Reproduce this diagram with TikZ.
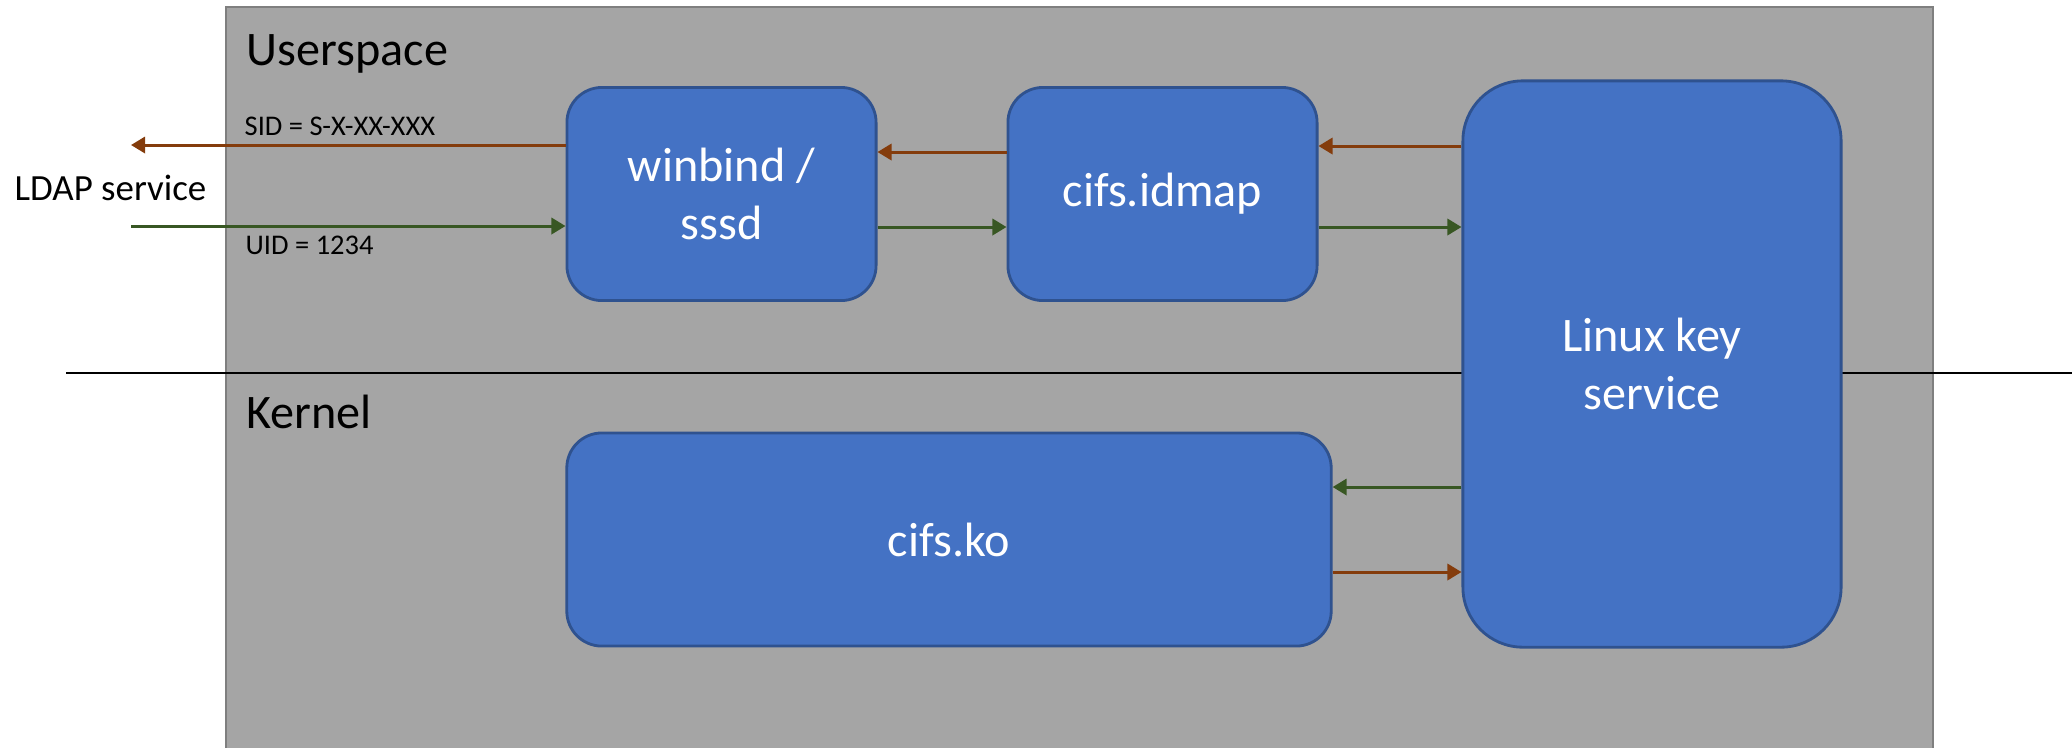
\documentclass[tikz,border=0pt]{standalone}
\usepackage{fontspec}
\setmainfont{Carlito}
\usetikzlibrary{arrows.meta}
\definecolor{boxblue}{HTML}{4472C4}
\definecolor{boxedge}{HTML}{2F528F}
\definecolor{spacegray}{HTML}{A5A5A5}
\definecolor{spaceedge}{HTML}{7F7F7F}
\definecolor{sidred}{HTML}{843C0C}
\definecolor{uidgreen}{HTML}{385723}
\tikzset{>={Triangle[length=4pt,width=4.6pt]}}
\tikzset{
  proc/.style={draw=boxedge, line width=0.8pt, fill=boxblue, text=white,
    rounded corners=0.35cm, inner sep=0pt, align=center,
    font=\fontsize{13.7}{16.5}\selectfont},
  sidarrow/.style={->, draw=sidred, fill=sidred, line width=0.85pt},
  uidarrow/.style={->, draw=uidgreen, fill=uidgreen, line width=0.85pt},
  label/.style={inner sep=0pt, anchor=base west}
}

\begin{document}
\begin{tikzpicture}[x=0.01cm,y=-0.01cm]
        \useasboundingbox (0,0) rectangle (2072,747);
        \filldraw[fill=spacegray, draw=spaceedge, line width=0.6pt] (226,7) rectangle (1933,760);
        \draw[line width=0.6pt] (66,373) -- (2072,373);

        \node[label, font=\fontsize{13.7}{16.5}\selectfont] (user) at (246,65) {Userspace};
        \node[label, font=\fontsize{13.7}{16.5}\selectfont] (kern) at (246,428) {Kernel};
        \node[label, font=\fontsize{10.5}{12}\selectfont] (ldap) at (14,200) {LDAP service};
        \node[label, font=\fontsize{8.1}{10}\selectfont] (sid) at (244,135) {SID = S-X-XX-XXX};
        \node[label, font=\fontsize{8.1}{10}\selectfont] (uid) at (245,254) {UID = 1234};

        \node[proc, minimum width=3.09cm, minimum height=2.13cm] (winbind) at (721.5,194) {winbind /\\sssd};
        \node[proc, minimum width=3.09cm, minimum height=2.13cm] (idmap) at (1162.5,194) {cifs.idmap};
        \node[proc, minimum width=7.64cm, minimum height=2.13cm] (cifsko) at (949,539.5) {cifs.ko};
        \node[proc, minimum width=3.78cm, minimum height=5.66cm, rounded corners=0.6cm] (keysvc) at (1652,364) {Linux key\\service};

        \coordinate (ldapout) at (131,145);
        \coordinate (ldapin) at (131,226);

        \draw[sidarrow] (winbind.west |- ldapout) -- (ldapout);
        \draw[uidarrow] (ldapin) -- (winbind.west |- ldapin);
        \draw[sidarrow] (idmap.west |- 0,152) -- (winbind.east |- 0,152);
        \draw[uidarrow] (winbind.east |- 0,227) -- (idmap.west |- 0,227);
        \draw[sidarrow] (keysvc.west |- 0,146) -- (idmap.east |- 0,146);
        \draw[uidarrow] (idmap.east |- 0,227) -- (keysvc.west |- 0,227);
        \draw[uidarrow] (keysvc.west |- 0,487) -- (cifsko.east |- 0,487);
        \draw[sidarrow] (cifsko.east |- 0,572) -- (keysvc.west |- 0,572);
    \end{tikzpicture}
\end{document}
